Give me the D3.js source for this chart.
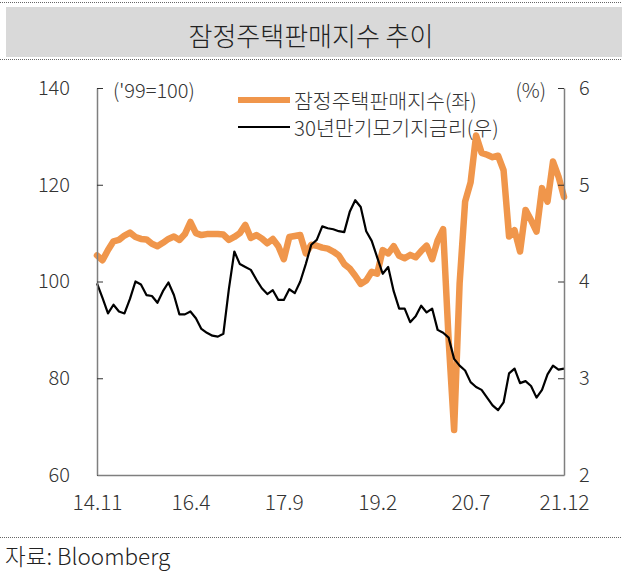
<!DOCTYPE html>
<html>
<head>
<meta charset="utf-8">
<script src="https://cdn.jsdelivr.net/npm/d3@7"></script>
<style>
  body { margin: 0; background: #fff; }
  text { font-family: "Noto Sans CJK KR", "Noto Sans", sans-serif; font-weight: 300; fill: #333; }
</style>
</head>
<body>
<svg id="chart" width="622" height="576"></svg>
<script>
// x tick labels (monthly data, 14.11 ~ 21.12)
var xTicks = ['14.11', '16.4', '17.9', '19.2', '20.7', '21.12'];
var xTickIdx = [0, 17, 34, 51, 68, 85];

// 잠정주택판매지수 (좌)
var phsi = [105.4, 104.4, 106.5, 108.3, 108.6, 109.5, 110.1, 109.2, 108.8, 108.7,
  107.8, 107.3, 108.0, 108.8, 109.3, 108.6, 109.8, 112.3, 110.0, 109.6,
  109.8, 109.8, 109.8, 109.7, 108.6, 109.2, 110.0, 111.7, 109.0, 109.6,
  108.9, 107.9, 108.8, 107.3, 104.6, 109.2, 109.4, 109.6, 105.8, 107.6,
  107.4, 107.0, 106.8, 106.2, 105.4, 103.6, 102.7, 101.2, 99.5, 100.2,
  102.0, 101.6, 106.5, 105.8, 107.3, 105.3, 104.8, 105.5, 105.0, 106.3,
  107.4, 104.6, 108.5, 110.8, 88.0, 69.3, 99.6, 116.5, 120.5, 130.2,
  126.6, 126.2, 125.7, 126.0, 123.0, 109.3, 110.6, 106.2, 114.8, 112.7,
  110.3, 119.3, 116.5, 124.8, 121.7, 117.5];

// 30년만기모기지금리 (우, %)
var mortgage = [3.98, 3.83, 3.67, 3.76, 3.69, 3.67, 3.82, 4.00, 3.97, 3.86,
  3.85, 3.78, 3.90, 3.99, 3.86, 3.66, 3.66, 3.69, 3.62, 3.51,
  3.47, 3.44, 3.43, 3.46, 3.92, 4.31, 4.18, 4.15, 4.12, 4.02,
  3.93, 3.87, 3.91, 3.81, 3.81, 3.92, 3.88, 4.00, 4.18, 4.38,
  4.43, 4.57, 4.55, 4.54, 4.52, 4.51, 4.72, 4.84, 4.77, 4.52,
  4.42, 4.25, 4.08, 4.15, 3.90, 3.72, 3.72, 3.58, 3.64, 3.75,
  3.68, 3.72, 3.50, 3.47, 3.42, 3.20, 3.13, 3.08, 2.96, 2.91,
  2.88, 2.80, 2.72, 2.67, 2.75, 3.05, 3.10, 2.95, 2.97, 2.92,
  2.80, 2.88, 3.04, 3.13, 3.09, 3.10];

var leftTicks = [60, 80, 100, 120, 140];
var rightTicks = [2, 3, 4, 5, 6];

function draw() {
  var svg = d3.select('#chart');

  // title band
  svg.append('rect').attr('x', 6).attr('y', 7).attr('width', 616).attr('height', 50).attr('fill', '#d9d9d9');
  svg.append('line').attr('x1', 0).attr('x2', 622).attr('y1', 2.5).attr('y2', 2.5)
    .attr('stroke', '#666').attr('stroke-dasharray', '1,1');
  svg.append('line').attr('x1', 0).attr('x2', 622).attr('y1', 59.5).attr('y2', 59.5)
    .attr('stroke', '#666').attr('stroke-dasharray', '1,1');
  svg.append('text').attr('x', 311).attr('y', 34).attr('text-anchor', 'middle')
    .attr('dominant-baseline', 'central').attr('font-size', '26px').style('fill', '#222')
    .text('잠정주택판매지수 추이');

  var pl = 97, pr = 564, pt = 88, pb = 475;

  var x = d3.scaleLinear().domain([0, phsi.length - 1]).range([pl, pr]);
  var yL = d3.scaleLinear().domain([60, 140]).range([pb, pt]);
  var yR = d3.scaleLinear().domain([2, 6]).range([pb, pt]);

  // lines (orange under black)
  var lineL = d3.line().x(function(d, i) { return x(i); }).y(function(d) { return yL(d); });
  var lineR = d3.line().x(function(d, i) { return x(i); }).y(function(d) { return yR(d); });

  svg.append('path').datum(phsi).attr('d', lineL)
    .attr('fill', 'none').attr('stroke', '#f0964b').attr('stroke-width', 6.5)
    .attr('stroke-linejoin', 'round').attr('stroke-linecap', 'round');
  svg.append('path').datum(mortgage).attr('d', lineR)
    .attr('fill', 'none').attr('stroke', '#000').attr('stroke-width', 2.2)
    .attr('stroke-linejoin', 'round');

  // axes
  var gL = svg.append('g').attr('transform', 'translate(' + pl + ',0)')
    .call(d3.axisLeft(yL).tickValues(leftTicks).tickSize(-6).tickSizeOuter(0).tickPadding(27));
  var gR = svg.append('g').attr('transform', 'translate(' + pr + ',0)')
    .call(d3.axisRight(yR).tickValues(rightTicks).tickFormat(d3.format('d'))
      .tickSize(-6).tickSizeOuter(0).tickPadding(15));
  var gB = svg.append('g').attr('transform', 'translate(0,' + pb + ')')
    .call(d3.axisBottom(x).tickValues(xTickIdx).tickFormat(function(d, i) { return xTicks[i]; })
      .tickSize(0).tickSizeOuter(0).tickPadding(20));

  [gL, gR, gB].forEach(function(g) {
    g.select('.domain').attr('stroke', '#7f7f7f').attr('stroke-width', 1.5);
    g.selectAll('.tick line').attr('stroke', '#333').attr('stroke-width', 1);
    g.selectAll('text').attr('font-size', '20px').attr('font-family', null).style('fill', '#333');
  });
  gB.selectAll('text').attr('font-size', '21px');

  // units
  svg.append('text').attr('x', 113).attr('y', 89).attr('dominant-baseline', 'central')
    .attr('font-size', '20px').text("('99=100)");
  svg.append('text').attr('x', 546).attr('y', 89).attr('dominant-baseline', 'central')
    .attr('text-anchor', 'end').attr('font-size', '20px').text('(%)');

  // legend
  svg.append('line').attr('x1', 238).attr('x2', 290).attr('y1', 100).attr('y2', 100)
    .attr('stroke', '#f0964b').attr('stroke-width', 6);
  svg.append('text').attr('x', 294).attr('y', 100).attr('dominant-baseline', 'central')
    .attr('font-size', '20.5px').text('잠정주택판매지수(좌)');
  svg.append('line').attr('x1', 238).attr('x2', 290).attr('y1', 127).attr('y2', 127)
    .attr('stroke', '#000').attr('stroke-width', 2.2);
  svg.append('text').attr('x', 294).attr('y', 127).attr('dominant-baseline', 'central')
    .attr('font-size', '20.5px').text('30년만기모기지금리(우)');

  // source
  svg.append('line').attr('x1', 0).attr('x2', 622).attr('y1', 537.5).attr('y2', 537.5)
    .attr('stroke', '#666').attr('stroke-dasharray', '1,1');
  svg.append('text').attr('x', 5).attr('y', 555).attr('dominant-baseline', 'central')
    .attr('font-size', '22.5px').style('fill', '#222').text('자료: Bloomberg');
}

draw();
</script>
</body>
</html>
